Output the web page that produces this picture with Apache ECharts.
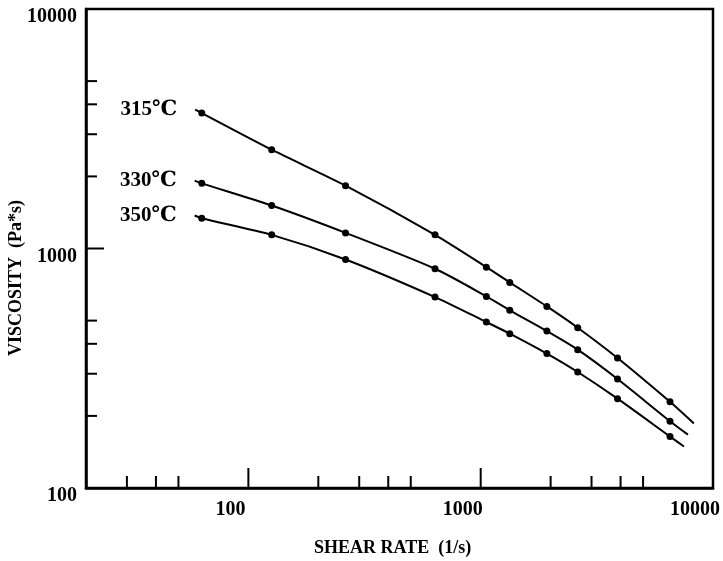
<!DOCTYPE html>
<html>
<head>
<meta charset="utf-8">
<script src="https://cdn.jsdelivr.net/npm/echarts@6/dist/echarts.min.js"></script>
<style>
html,body{margin:0;padding:0;background:#fff;}
#chart{width:723px;height:561px;}
</style>
</head>
<body>
<div id="chart"></div>
<script>
// ---- data ----
const seriesNames = ['315℃', '330℃', '350℃'];
const shearRate = [63, 126, 262, 636, 1058, 1334, 1927, 2616, 3882, 6530];
const visc315 = [3677, 2585, 1830, 1140, 836, 722, 573, 467, 349, 229];
const visc330 = [1871, 1511, 1162, 823, 631, 552, 452, 378, 285, 190];
const visc350 = [1337, 1140, 900, 627, 493, 441, 364, 305, 236, 164];
// curve extents beyond the measured points
const curveStartRate = [59, 58.7, 58.7];
const curveStartVisc = [3805, 1920, 1373];
const curveEndRate = [8272, 7800, 7497];
const curveEndVisc = [186, 167, 149];
// axis ticks
const xMajorTicks = [100, 1000];
const xMinorTicks = [30, 40, 50, 200, 300, 400, 500, 2000, 3000, 4000, 5000];
const yMajorTicks = [1000];
const yMinorTicks = [200, 300, 400, 500, 2000, 3000, 4000, 5000];
const xAxisTitle = 'SHEAR RATE  (1/s)';
const yAxisTitle = 'VISCOSITY  (Pa*s)';

const FONT = '"Liberation Serif", "DejaVu Serif", serif';
const viscData = [visc315, visc330, visc350];

function isPow10(v) {
  const l = Math.log10(v);
  return Math.abs(l - Math.round(l)) < 1e-6;
}

const lineSeries = viscData.map((vals, i) => {
  const data = [];
  data.push({
    value: [curveStartRate[i], curveStartVisc[i]],
    symbolSize: 0,
    label: {
      show: true, position: 'left', distance: 18,
      formatter: seriesNames[i],
      color: '#000', fontFamily: FONT, fontWeight: 'bold', fontSize: 21
    }
  });
  shearRate.forEach((x, j) => data.push([x, vals[j]]));
  data.push({ value: [curveEndRate[i], curveEndVisc[i]], symbolSize: 0 });
  return {
    name: seriesNames[i],
    type: 'line',
    data: data,
    smooth: 0.25,
    symbol: 'circle',
    symbolSize: 7,
    lineStyle: { color: '#000', width: 2 },
    itemStyle: { color: '#000' },
    z: 3
  };
});

function xTickSeries(vals, len) {
  return {
    type: 'custom',
    data: vals.map(v => [v, 100]),
    silent: true,
    z: 4,
    renderItem: function (params, api) {
      const p = api.coord([api.value(0), api.value(1)]);
      return { type: 'line', shape: { x1: p[0], y1: p[1], x2: p[0], y2: p[1] - len },
        style: { stroke: '#000', lineWidth: 2 } };
    }
  };
}
function yTickSeries(vals, len) {
  return {
    type: 'custom',
    data: vals.map(v => [20, v]),
    silent: true,
    z: 4,
    renderItem: function (params, api) {
      const p = api.coord([api.value(0), api.value(1)]);
      return { type: 'line', shape: { x1: p[0], y1: p[1], x2: p[0] + len, y2: p[1] },
        style: { stroke: '#000', lineWidth: 2 } };
    }
  };
}

const chart = echarts.init(document.getElementById('chart'), null, { renderer: 'canvas' });
chart.setOption({
  backgroundColor: '#fff',
  animation: false,
  grid: {
    left: 86, top: 9, right: 8, bottom: 73,
    show: true, borderColor: '#000', borderWidth: 2.5, backgroundColor: 'transparent'
  },
  xAxis: {
    type: 'log', logBase: 10, min: 20, max: 10000,
    axisLine: { show: true, lineStyle: { color: '#000', width: 2.5 } },
    axisTick: { show: false },
    splitLine: { show: false },
    axisLabel: {
      color: '#000', fontFamily: FONT, fontWeight: 'bold', fontSize: 20,
      margin: 12, padding: [0, 36, 0, 0],
      showMinLabel: true, showMaxLabel: true,
      formatter: v => isPow10(v) ? String(Math.round(v)) : ''
    }
  },
  yAxis: {
    type: 'log', logBase: 10, min: 100, max: 10000,
    axisLine: { show: true, lineStyle: { color: '#000', width: 2.5 } },
    axisTick: { show: false },
    splitLine: { show: false },
    axisLabel: {
      color: '#000', fontFamily: FONT, fontWeight: 'bold', fontSize: 20,
      margin: 9, verticalAlign: 'top', lineHeight: 16,
      showMinLabel: true, showMaxLabel: true,
      formatter: v => isPow10(v) ? String(Math.round(v)) : ''
    }
  },
  graphic: [
    { type: 'text', left: 392 - 78, top: 539,
      style: { text: xAxisTitle, fill: '#000', font: 'bold 18px ' + FONT } },
    { type: 'text', x: 16, y: 278, rotation: Math.PI / 2,
      style: { text: yAxisTitle, fill: '#000', font: 'bold 18px ' + FONT,
        textAlign: 'center', textVerticalAlign: 'middle' } }
  ],
  series: lineSeries.concat([
    xTickSeries(xMajorTicks, 20),
    xTickSeries(xMinorTicks, 12),
    yTickSeries(yMajorTicks, 18),
    yTickSeries(yMinorTicks, 11)
  ])
});
</script>
</body>
</html>
